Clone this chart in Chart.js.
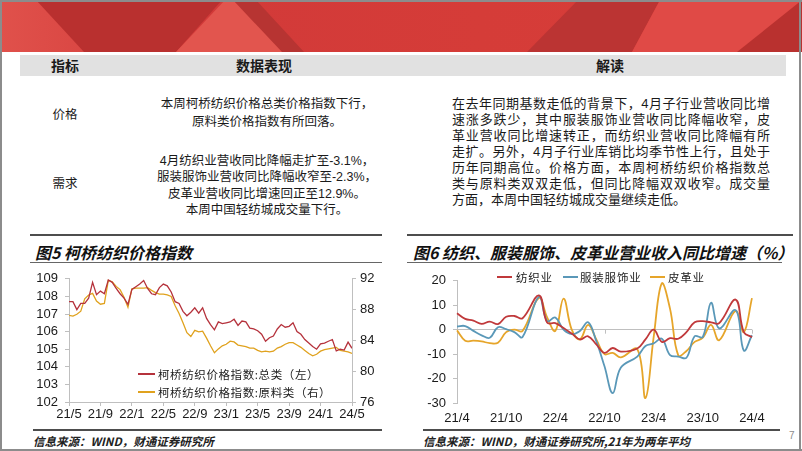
<!DOCTYPE html>
<html>
<head>
<meta charset="utf-8">
<script src="https://cdn.jsdelivr.net/npm/chart.js@4.4.1/dist/chart.umd.min.js"></script>
<style>
html, body { margin: 0; padding: 0; background: #fff; }
#slide { position: relative; width: 802px; height: 451px; overflow: hidden; font-family: "Liberation Sans", "Noto Sans CJK SC", sans-serif; color: #1a1a1a; }
.abs { position: absolute; }
.band { left: 0; top: 0; width: 802px; height: 52px; background: linear-gradient(90deg, #e0514b 0%, #d23a39 25%, #d53c38 60%, #d83d3a 100%); }
.poly { position: absolute; left: 0; top: 0; width: 802px; height: 52px; }
.thead { left: 20px; top: 55px; width: 766px; height: 21px; background: #e1e1e1; }
.th { position: absolute; top: 55px; height: 21px; line-height: 21px; font-family: "Noto Sans CJK SC", sans-serif; font-weight: 700; font-size: 14px; text-align: center; }
.cell { position: absolute; font-family: "Liberation Sans", "Noto Sans CJK SC", sans-serif; font-size: 12.5px; white-space: nowrap; }
.mid { left: 137px; width: 260px; text-align: center; }
.j { position: absolute; left: 452px; width: 318px; height: 16px; line-height: 16px; font-size: 13px; text-align: justify; text-align-last: justify; white-space: nowrap; font-family: "Liberation Sans", "Noto Sans CJK SC", sans-serif; }
.j.last { text-align-last: left; }
.rule { position: absolute; background: #555; }
.title { position: absolute; font-family: "Noto Sans CJK SC", sans-serif; font-weight: 700; font-style: italic; font-size: 16px; line-height: 20px; white-space: nowrap; color: #111; }
.src { position: absolute; font-family: "Noto Sans CJK SC", sans-serif; font-weight: 700; font-style: italic; font-size: 11.5px; line-height: 14px; white-space: nowrap; color: #222; }
.lg { position: absolute; font-family: "Noto Sans CJK SC", sans-serif; font-size: 11.5px; line-height: 14px; white-space: nowrap; color: #222; }
.sw { position: absolute; height: 2px; }
canvas { position: absolute; }
</style>
</head>
<body>
<div id="slide">
  <div class="abs band"></div>
  <div class="poly" style="background:#b9302f;clip-path:polygon(36px 0,222px 0,176px 52px,84px 52px)"></div>
  <div class="poly" style="background:#e2554e;clip-path:polygon(176px 52px,225px 0,233px 0,292px 52px)"></div>
  <div class="poly" style="background:#b73432;clip-path:polygon(233px 0,256px 0,304px 52px,282px 52px)"></div>
  <div class="poly" style="background:#bb3433;clip-path:polygon(527px 52px,578px 0,660px 0,632px 52px)"></div>
  <div class="poly" style="background:#e04a46;clip-path:polygon(660px 0,802px 0,802px 52px,632px 52px)"></div>
  <div class="poly" style="background:#b9312f;clip-path:polygon(737px 52px,802px 0,802px 52px)"></div>
  <div class="abs" style="left:0;top:0;width:802px;height:2px;background:#8c8c8c"></div>
  <div class="abs" style="left:0;top:0;width:2px;height:451px;background:#8c8c8c"></div>
  <div class="abs" style="left:799px;top:0;width:2px;height:451px;background:#8c8c8c"></div>
  <div class="abs" style="left:0;top:449px;width:802px;height:2px;background:#8c8c8c"></div>

  <div class="abs thead"></div>
  <div class="th" style="left:35px;width:60px">指标</div>
  <div class="th" style="left:204px;width:120px">数据表现</div>
  <div class="th" style="left:570px;width:80px">解读</div>

  <div class="cell" style="left:35px;width:60px;text-align:center;top:107px;line-height:17px">价格</div>
  <div class="cell mid" style="top:96px;line-height:17.5px">本周柯桥纺织价格总类价格指数下行，<br>原料类价格指数有所回落。</div>

  <div class="cell" style="left:35px;width:60px;text-align:center;top:176px;line-height:17px">需求</div>
  <div class="cell mid" style="top:153px;line-height:16.4px">4月纺织业营收同比降幅走扩至-3.1%，<br>服装服饰业营收同比降幅收窄至-2.3%，<br>皮革业营收同比增速回正至12.9%。<br>本周中国轻纺城成交量下行。</div>

  <div class="j" style="top:96px">在去年同期基数走低的背景下，4月子行业营收同比增</div>
  <div class="j" style="top:112px">速涨多跌少，其中服装服饰业营收同比降幅收窄，皮</div>
  <div class="j" style="top:128px">革业营收同比增速转正，而纺织业营收同比降幅有所</div>
  <div class="j" style="top:144px">走扩。另外，4月子行业库销比均季节性上行，且处于</div>
  <div class="j" style="top:160px">历年同期高位。价格方面，本周柯桥纺织价格指数总</div>
  <div class="j" style="top:176px">类与原料类双双走低，但同比降幅双双收窄。成交量</div>
  <div class="j last" style="top:192px">方面，本周中国轻纺城成交量继续走低。</div>

  <!-- left chart frame -->
  <div class="rule" style="left:30px;top:234px;width:352px;height:2px;background:#4d4d4d"></div>
  <div class="title" style="left:35px;top:242px">图5 柯桥纺织价格指数</div>
  <div class="rule" style="left:30px;top:262px;width:352px;height:1px;background:#666"></div>
  <canvas id="priceChart" width="352" height="164" style="left:30px;top:264px"></canvas>
  <div class="sw" style="left:138px;top:373px;width:17px;background:#b5323c"></div>
  <div class="lg" style="left:158px;top:367px;letter-spacing:0.6px">柯桥纺织价格指数:总类（左）</div>
  <div class="sw" style="left:138px;top:391px;width:17px;background:#e0a21e"></div>
  <div class="lg" style="left:158px;top:385px;letter-spacing:0.6px">柯桥纺织价格指数:原料类（右）</div>
  <div class="rule" style="left:33px;top:429px;width:349px;height:1.5px;background:#4d4d4d"></div>
  <div class="src" style="left:33px;top:434px">信息来源：WIND，财通证券研究所</div>

  <!-- right chart frame -->
  <div class="rule" style="left:407px;top:234px;width:386px;height:2px;background:#4d4d4d"></div>
  <div class="title" style="left:413px;top:242px">图6 纺织、服装服饰、皮革业营业收入同比增速（%）</div>
  <div class="rule" style="left:407px;top:262px;width:375px;height:1px;background:#666"></div>
  <canvas id="revChart" width="375" height="162" style="left:407px;top:266px"></canvas>
  <div class="sw" style="left:497px;top:276px;width:15px;background:#c0393b"></div>
  <div class="lg" style="left:516px;top:270px;letter-spacing:0.8px">纺织业</div>
  <div class="sw" style="left:563px;top:276px;width:15px;background:#5a98b8"></div>
  <div class="lg" style="left:580px;top:270px;letter-spacing:0.8px">服装服饰业</div>
  <div class="sw" style="left:650px;top:276px;width:15px;background:#e6a52a"></div>
  <div class="lg" style="left:668px;top:270px;letter-spacing:0.8px">皮革业</div>
  <div class="rule" style="left:423px;top:429px;width:357px;height:1.5px;background:#4d4d4d"></div>
  <div class="src" style="left:423px;top:434px">信息来源：WIND，财通证券研究所,21年为两年平均</div>
  <div class="abs" style="left:789px;top:430px;font-size:10px;color:#8c8c8c">7</div>
</div>

<script>
// 图5 柯桥纺织价格指数，半月取值（21/5 - 24/5）
const priceTicks = ['21/5', '21/9', '22/1', '22/5', '22/9', '23/1', '23/5', '23/9', '24/1', '24/5'];
const totalIndex = [
    107.7, 107.7, 107.25, 107.6, 107.6, 107.9, 108.8, 108.1, 108.3, 108.15,
    108.93, 108.8, 108.45, 108.15, 107.9, 107.55, 108.4, 108.55, 108.7, 108.9,
    108.45, 108.15, 108.1, 108.5, 108.7, 108.6, 108.25, 107.7, 107.6, 107.15,
    106.9, 107.1, 107.35, 107.05, 107.35, 106.75, 106.4, 106.1, 106.55, 106.45,
    106.5, 106.55, 106.7, 106.35, 106.6, 106.55, 106.2, 106.15, 106.05, 105.85,
    105.45, 105.65, 105.75, 106.15, 106.4, 106.25, 106.3, 106.5, 106.0, 105.85,
    105.55, 105.35, 105.15, 105.0, 105.3, 105.35, 105.45, 105.55, 104.9, 105.0,
    104.95, 105.4, 105.05
];
const rawIndex = [
    87.25, 87.15, 87.4, 87.8, 89.4, 89.9, 90.1, 89.1, 88.7, 88.8,
    91.8, 91.6, 91.0, 90.6, 89.6, 88.3, 90.7, 90.8, 90.8, 90.8,
    90.85, 90.5, 90.2, 90.0, 90.0, 89.9, 89.7, 88.5, 87.5, 86.3,
    85.0, 84.5, 85.3, 85.1, 85.2, 84.3, 83.3, 82.4, 82.9, 83.3,
    83.5, 83.9, 83.8, 83.4, 83.3, 83.2, 83.0, 83.0, 82.7, 82.5,
    82.6, 82.5, 82.6, 83.0, 83.2, 83.5, 83.7, 83.7, 83.4, 83.1,
    82.7, 82.3, 82.0, 82.2, 82.6, 82.8, 82.9, 83.0, 83.1, 82.7,
    82.6, 82.5, 82.3
];

// 图6 营业收入同比增速（%），1月无数据
const revMonths = [
    '21/4', '21/5', '21/6', '21/7', '21/8', '21/9', '21/10', '21/11', '21/12',
    '22/1', '22/2', '22/3', '22/4', '22/5', '22/6', '22/7', '22/8', '22/9', '22/10', '22/11', '22/12',
    '23/1', '23/2', '23/3', '23/4', '23/5', '23/6', '23/7', '23/8', '23/9', '23/10', '23/11', '23/12',
    '24/1', '24/2', '24/3', '24/4'
];
const textile = [
    6.7, 4.4, 3.7, 2.4, 3.3, 2.3, 5.3, 5.6, 4.7,
    null, 14.0, 2.9, 2.7, 0.7, -1.6, -4.0, -2.7, -6.0, -9.5, -7.5, -9.0,
    null, -7.7, -4.0, 0.0, -5.0, -3.5, -3.7, -1.0, 3.0, 3.5, 3.0, 2.7,
    null, 12.3, -1.0, -3.1
];
const apparel = [
    1.3, 1.5, -0.5, -2.3, -3.3, 1.0, 0.2, -1.0, -3.0,
    null, 13.5, 3.5, 5.0, 0.0, -1.8, -0.5, 3.0, -4.7, -15.0, -26.0, -15.5,
    null, -11.0, -6.7, -5.6, -3.7, -10.4, -11.0, -11.5, -2.7, -3.0, 11.0, 0.5,
    null, 8.0, -8.5, -2.3
];
const leather = [
    -0.3, -4.5, -4.5, -4.8, -5.5, -5.3, -1.0, 0.0, -0.5,
    null, 13.0, 5.0, -0.5, 12.7, 0.0, -4.0, 2.0, -4.0, -10.0, -9.5, -11.3,
    null, -8.0, -28.0, -3.0, 19.0, 8.5, -10.5, -8.7, -5.0, -3.3, 2.0, -4.3,
    null, 7.7, -1.0, 12.9
];

const AXIS = '#bfbfbf';
Chart.defaults.font.family = '"Liberation Sans", Arial, sans-serif';
Chart.defaults.font.size = 13;
Chart.defaults.color = '#1a1a1a';

new Chart(document.getElementById('priceChart'), {
    type: 'line',
    data: {
        datasets: [{
            label: '柯桥纺织价格指数:总类（左）',
            data: totalIndex.map((v, i) => ({ x: i / 2, y: v })),
            yAxisID: 'y',
            borderColor: '#b5323c',
            borderWidth: 1.3,
            pointRadius: 0,
            tension: 0
        }, {
            label: '柯桥纺织价格指数:原料类（右）',
            data: rawIndex.map((v, i) => ({ x: i / 2, y: v })),
            yAxisID: 'y1',
            borderColor: '#e0a21e',
            borderWidth: 1.3,
            pointRadius: 0,
            tension: 0
        }]
    },
    options: {
        responsive: false,
        animation: false,
        layout: { padding: { top: 10 } },
        plugins: { legend: { display: false }, tooltip: { enabled: false } },
        scales: {
            x: {
                type: 'linear', min: 0, max: 36,
                ticks: { stepSize: 4, padding: 1, maxRotation: 0, autoSkip: false, callback: v => priceTicks[v / 4] },
                grid: { drawOnChartArea: false, color: AXIS, tickLength: 4 },
                border: { color: AXIS },
                afterFit: s => { s.height = 26; }
            },
            y: {
                position: 'left', min: 102, max: 109,
                ticks: { stepSize: 1, padding: 7, autoSkip: false },
                grid: { drawOnChartArea: false, color: AXIS, tickLength: 4 },
                border: { color: AXIS },
                afterFit: s => { s.width = 39; }
            },
            y1: {
                position: 'right', min: 76, max: 92,
                ticks: { stepSize: 4, padding: 4, autoSkip: false },
                grid: { drawOnChartArea: false, color: AXIS, tickLength: 4 },
                border: { color: AXIS },
                afterFit: s => { s.width = 30; }
            }
        }
    }
});

// small marks on the zero line, like the original category axis
const zeroTicks = {
    id: 'zeroTicks',
    beforeDatasetsDraw(chart) {
        const { ctx, scales: { x, y } } = chart;
        const y0 = y.getPixelForValue(0);
        ctx.save();
        ctx.strokeStyle = AXIS;
        ctx.lineWidth = 1;
        [0, 18, 36].forEach(i => {
            const px = Math.round(x.getPixelForValue(i)) + 0.5;
            ctx.beginPath();
            ctx.moveTo(px, y0);
            ctx.lineTo(px, y0 + 4);
            ctx.stroke();
        });
        ctx.restore();
    }
};

new Chart(document.getElementById('revChart'), {
    type: 'line',
    data: {
        labels: revMonths,
        datasets: [
            { label: '纺织业', data: textile, borderColor: '#c0393b' },
            { label: '服装服饰业', data: apparel, borderColor: '#5a98b8' },
            { label: '皮革业', data: leather, borderColor: '#e6a52a' }
        ].map(d => Object.assign(d, { borderWidth: 1.8, pointRadius: 0, tension: 0.4, spanGaps: true }))
    },
    options: {
        responsive: false,
        animation: false,
        layout: { padding: { top: 12, right: 30 } },
        plugins: { legend: { display: false }, tooltip: { enabled: false } },
        scales: {
            x: {
                ticks: { autoSkip: false, maxRotation: 0, padding: 8, callback: (v, i) => (i % 6 === 0 ? revMonths[i] : '') },
                grid: { display: false, drawTicks: false },
                border: { display: false },
                afterFit: s => { s.height = 25; }
            },
            y: {
                min: -30, max: 20,
                ticks: { stepSize: 10, padding: 7, autoSkip: false },
                grid: { color: c => (c.tick && c.tick.value === 0 ? AXIS : 'rgba(0,0,0,0)'), tickColor: AXIS, tickLength: 4 },
                border: { color: AXIS },
                afterFit: s => { s.width = 50; }
            }
        }
    },
    plugins: [zeroTicks]
});
</script>
</body>
</html>
